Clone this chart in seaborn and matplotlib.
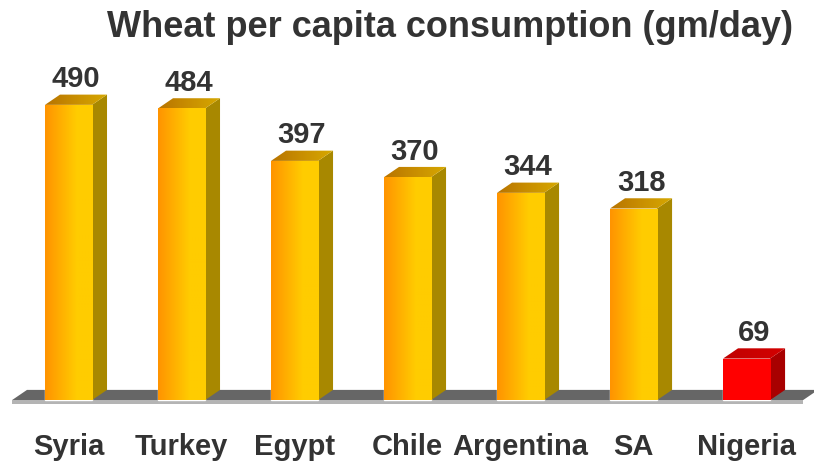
import numpy as np
import matplotlib
matplotlib.use("Agg")
import matplotlib.pyplot as plt
from matplotlib.colors import LinearSegmentedColormap
from matplotlib.patches import Polygon
import seaborn as sns

countries = ["Syria", "Turkey", "Egypt", "Chile", "Argentina", "SA", "Nigeria"]
consumption = [490, 484, 397, 370, 344, 318, 69]
highlight = "Nigeria"

sns.set_style("white")
plt.rcParams["font.family"] = ["Liberation Sans", "DejaVu Sans"]

TXT = "#333333"
DX, DY = 0.133, 17  # 3d depth offset (category units, value units)

front_gold = LinearSegmentedColormap.from_list("fg", ["#ff9400", "#ffb000", "#ffcc00", "#ffcc00"])
top_gold = LinearSegmentedColormap.from_list("tg", ["#b87400", "#c98f00", "#d6a800"])
front_red = LinearSegmentedColormap.from_list("fr", ["#ff0000", "#ff0000"])
top_red = LinearSegmentedColormap.from_list("tr", ["#c00000", "#d40000"])

fig = plt.figure(figsize=(8.14, 4.61), dpi=100)
ax = fig.add_axes([0, 0, 1, 1])

palette = {c: ("#ff0000" if c == highlight else "#ffcc00") for c in countries}
sns.barplot(x=countries, y=consumption, hue=countries, palette=palette,
            width=0.416, legend=False, saturation=1, ax=ax, zorder=3)

# floor
n = len(countries)
floor = Polygon([(-0.5, 0), (n - 0.5, 0), (n - 0.5 + DX, DY), (-0.5 + DX, DY)],
                closed=True, facecolor="#666666", edgecolor="none", zorder=1)
ax.add_patch(floor)
strip = Polygon([(-0.5, 0), (n - 0.5, 0), (n - 0.5, -6), (-0.5, -6)],
                closed=True, facecolor="#b4b4b4", edgecolor="none", zorder=1)
ax.add_patch(strip)

grad = np.linspace(0, 1, 64).reshape(1, -1)
for patch, name, val in zip(ax.patches, countries, consumption):
    x0, w, h = patch.get_x(), patch.get_width(), patch.get_height()
    red = name == highlight
    fcm = front_red if red else front_gold
    tcm = top_red if red else top_gold
    side_c = "#a80000" if red else "#a88800"

    im = ax.imshow(grad, cmap=fcm, extent=[x0, x0 + w, 0, h], aspect="auto", zorder=4)
    im.set_clip_path(patch)

    side = Polygon([(x0 + w, 0), (x0 + w + DX, DY), (x0 + w + DX, h + DY), (x0 + w, h)],
                   closed=True, facecolor=side_c, edgecolor="none", zorder=3)
    ax.add_patch(side)

    top = Polygon([(x0, h), (x0 + w, h), (x0 + w + DX, h + DY), (x0 + DX, h + DY)],
                  closed=True, facecolor="none", edgecolor="none", zorder=3)
    ax.add_patch(top)
    im2 = ax.imshow(grad, cmap=tcm, extent=[x0, x0 + w + DX, h, h + DY], aspect="auto", zorder=4)
    im2.set_clip_path(top)

    ax.text(x0 + w / 2 + DX / 2, h + DY + 12, str(val), ha="center", va="baseline",
            fontsize=21, fontweight="bold", color=TXT, zorder=5)
    ax.text(x0 + w / 2, -91, name, ha="center", va="baseline",
            fontsize=21, fontweight="bold", color=TXT, zorder=5)

fig.text(0.553, 1 - 37 / 461, "Wheat per capita consumption (gm/day)", ha="center",
         va="baseline", fontsize=26, fontweight="bold", color=TXT)

ax.set_xlim(-0.606, 6.597)
ax.set_ylim(-101, 664)
ax.axis("off")

fig.savefig("out.png", dpi=100, facecolor="white")
